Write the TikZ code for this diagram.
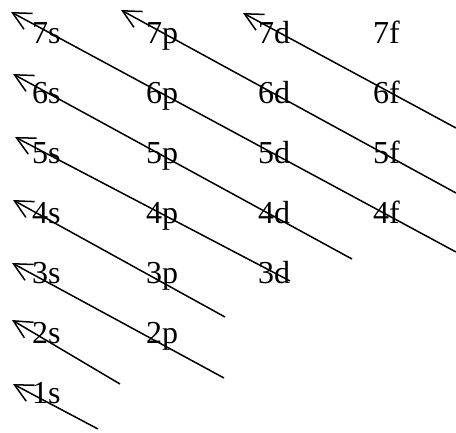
\documentclass[tikz,border=0pt]{standalone}
\usepackage{fontspec}
\setmainfont{Liberation Serif}
\usetikzlibrary{arrows.meta}
\begin{document}
\begin{tikzpicture}[x=1pt,y=-1pt,
  orb/.style={anchor=base west,inner sep=0pt,font=\fontsize{32}{38}\selectfont},
  arr/.style={{Straight Barb[length=18pt,width=18pt]}-,line width=1.5pt}]
\useasboundingbox (0,0) rectangle (456,432);
% labels
\node[orb] (s7) at (32,43) {7s};
\node[orb] (p7) at (146,43) {7p};
\node[orb] (d7) at (258,43) {7d};
\node[orb] (f7) at (373,43) {7f};
\node[orb] (s6) at (32,103) {6s};
\node[orb] (p6) at (146,103) {6p};
\node[orb] (d6) at (258,103) {6d};
\node[orb] (f6) at (373,103) {6f};
\node[orb] (s5) at (32,163) {5s};
\node[orb] (p5) at (146,163) {5p};
\node[orb] (d5) at (258,163) {5d};
\node[orb] (f5) at (373,163) {5f};
\node[orb] (s4) at (32,223) {4s};
\node[orb] (p4) at (146,223) {4p};
\node[orb] (d4) at (258,223) {4d};
\node[orb] (f4) at (373,223) {4f};
\node[orb] (s3) at (32,283) {3s};
\node[orb] (p3) at (146,283) {3p};
\node[orb] (d3) at (258,283) {3d};
\node[orb] (s2) at (32,343) {2s};
\node[orb] (p2) at (146,343) {2p};
\node[orb] (s1) at (32,403) {1s};
% arrow tips and ends
\coordinate (t7s) at (11,12);  \coordinate (e7s) at (456,252);
\coordinate (t7p) at (121,10); \coordinate (e7p) at (456,193);
\coordinate (t7d) at (243,13); \coordinate (e7d) at (456,128);
\coordinate (t6s) at (13,74);  \coordinate (e6s) at (352,259);
\coordinate (t5s) at (15,137); \coordinate (e5s) at (290,281);
\coordinate (t4s) at (13,200); \coordinate (e4s) at (225,317);
\coordinate (t3s) at (12,263); \coordinate (e3s) at (224,378);
\coordinate (t2s) at (12,320); \coordinate (e2s) at (120,384);
\coordinate (t1s) at (13,384); \coordinate (e1s) at (98,429);
\foreach \n in {7s,7p,7d,6s,5s,4s,3s,2s,1s}
  \draw[arr] (t\n) -- (e\n);
\end{tikzpicture}
\end{document}
